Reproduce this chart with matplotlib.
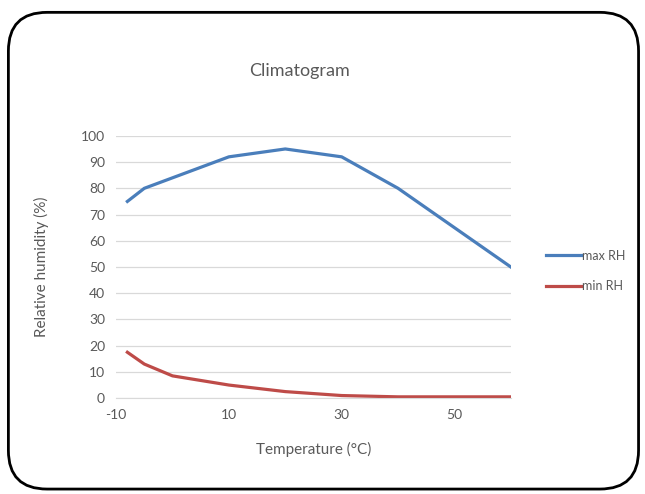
import matplotlib.pyplot as plt
from matplotlib.patches import FancyBboxPatch

# data
temp_max = [-8, -5, 10, 20, 30, 40, 60]
rh_max = [75, 80, 92, 95, 92, 80, 50]
temp_min = [-8, -5, 0, 10, 20, 30, 40, 60]
rh_min = [17.5, 13, 8.5, 5, 2.5, 1, 0.5, 0.5]

x_ticks = [-10, 10, 30, 50]
y_ticks = list(range(0, 101, 10))

txt = '#595959'
plt.rcParams['font.family'] = ['Lato', 'DejaVu Sans']
plt.rcParams['axes.unicode_minus'] = False

fig = plt.figure(figsize=(6.45, 4.94), dpi=100)
ax = fig.add_axes([0.180, 0.194, 0.612, 0.531])

ax.plot(temp_max, rh_max, color='#4A7EBB', lw=2.3, label='max RH')
ax.plot(temp_min, rh_min, color='#BE4B48', lw=2.3, label='min RH')

ax.set_xlim(-10, 60)
ax.set_ylim(0, 100)
ax.set_xticks(x_ticks)
ax.set_yticks(y_ticks)
ax.grid(axis='y', color='#D9D9D9', lw=0.9)
ax.set_axisbelow(True)
for s in ['top', 'right', 'left']:
    ax.spines[s].set_visible(False)
ax.spines['bottom'].set_color('#D9D9D9')
ax.tick_params(length=0, colors=txt, labelsize=10, pad=8)

ax.set_xlabel('Temperature (°C)', color=txt, fontsize=11, labelpad=15)
ax.set_ylabel('Relative humidity (%)', color=txt, fontsize=11, labelpad=23)
fig.text(0.465, 0.857, 'Climatogram', color=txt, fontsize=13, ha='center', va='center')

leg = ax.legend(loc='center left', bbox_to_anchor=(1.06, 0.485), frameon=False,
                fontsize=9, handlelength=2.8, handletextpad=0.1, labelspacing=1.5)
for t in leg.get_texts():
    t.set_color(txt)

border = FancyBboxPatch((0.013, 0.01), 0.977, 0.965, transform=fig.transFigure,
                        boxstyle='round,pad=0,rounding_size=0.06',
                        fill=False, ec='black', lw=2, mutation_aspect=645 / 494)
fig.patches.append(border)

fig.savefig('out.png', dpi=100)
